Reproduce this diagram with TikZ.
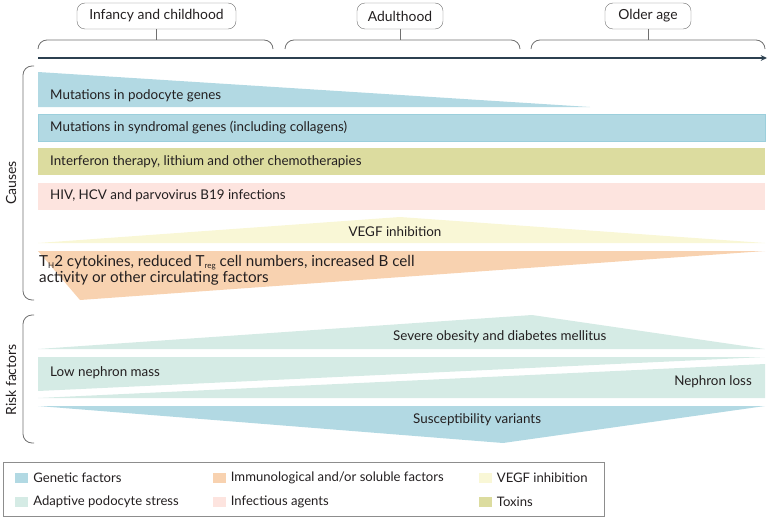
\documentclass[tikz,border=0pt]{standalone}
\usepackage{fontspec}
\setmainfont{Lato}
\usetikzlibrary{arrows.meta, positioning}
\definecolor{genblue}{HTML}{B2D9E3}
\definecolor{genedge}{HTML}{9CCFDC}
\definecolor{stressgreen}{HTML}{D5EBE5}
\definecolor{immorange}{HTML}{F8D2B0}
\definecolor{infpink}{HTML}{FDE4DF}
\definecolor{vegfyellow}{HTML}{F9F7D6}
\definecolor{toxolive}{HTML}{DCDC9F}
\definecolor{timeslate}{HTML}{2C4050}
\definecolor{bracegray}{HTML}{707070}
\definecolor{ink}{HTML}{231F20}
\newcommand{\lowsub}[1]{\raisebox{-2.5pt}{\fontsize{8}{8}\selectfont #1}}

\begin{document}
\begin{tikzpicture}[x=1pt, y=-1pt,
      agebox/.style={rectangle, draw=bracegray, rounded corners=8pt, minimum height=26pt,
                     inner sep=2pt, font=\fontsize{13.9}{16}\selectfont, text=ink},
      brace/.style={draw=bracegray, line width=0.8pt, rounded corners=9pt},
      timeline/.style={-{Stealth[length=2.2mm, width=2mm]}, timeslate, line width=1.6pt},
      lbl/.style={anchor=west, inner sep=0pt, font=\fontsize{13.4}{16}\selectfont, text=ink},
      side/.style={rotate=90, inner sep=0pt, font=\fontsize{14}{16}\selectfont, text=ink},
      swatch/.style={rectangle, minimum width=13pt, minimum height=10pt, inner sep=0pt},
      legtext/.style={anchor=west, inner sep=0pt, font=\fontsize{13.1}{16}\selectfont, text=ink},
    ]
    \useasboundingbox (0,0) rectangle (770,519);

    \node[agebox, minimum width=159pt] (infancy) at (156.5,16) {Infancy and childhood};
    \node[agebox, minimum width=86pt] (adult) at (400,16) {Adulthood};
    \node[agebox, minimum width=86pt] (older) at (648,16) {Older age};
    \coordinate (b1) at (156.5,40);
    \coordinate (b2) at (400,40);
    \coordinate (b3) at (648,40);
    \draw[brace] (38,49) -- (38,40) -- (273,40) -- (273,49);
    \draw[brace] (285,49) -- (285,40) -- (520,40) -- (520,49);
    \draw[brace] (531,49) -- (531,40) -- (765,40) -- (765,49);
    \draw[bracegray, line width=0.8pt] (infancy.south) -- (b1);
    \draw[bracegray, line width=0.8pt] (adult.south) -- (b2);
    \draw[bracegray, line width=0.8pt] (older.south) -- (b3);
    \coordinate (tstart) at (38,58);
    \coordinate (tend) at (767,58);
    \draw[timeline] (tstart) -- (tend);

    \draw[brace] (34,66) -- (23,66) -- (23,300) -- (34,300);
    \draw[brace] (34,315) -- (23,315) -- (23,443) -- (34,443);
    \node[side] (causes) at (11,183) {Causes};
    \node[side] (risk) at (11,380) {Risk factors};

    \fill[genblue] (38,72) -- (590,107) -- (38,107) -- cycle;
    \node[lbl] (podo) at (50,96) {Mutations in podocyte genes};
    \filldraw[fill=genblue, draw=genedge, line width=0.7pt] (38,114) rectangle (765,141);
    \node[lbl] (synd) at (50,128) {Mutations in syndromal genes (including collagens)};
    \fill[toxolive] (38,148) rectangle (765,175);
    \node[lbl] (interf) at (50,162) {Interferon therapy, lithium and other chemotherapies};
    \fill[infpink] (38,183) rectangle (765,210);
    \node[lbl] (hiv) at (50,196) {HIV, HCV and parvovirus B19 infections};
    \fill[vegfyellow] (38,243) -- (400,217) -- (765,243) -- cycle;
    \node[inner sep=0pt, font=\fontsize{13.4}{16}\selectfont, text=ink] (vegf) at (395,232) {VEGF inhibition};
    \fill[immorange] (38,251) -- (765,251) -- (80,300) -- cycle;
    \node[lbl, align=left, font=\fontsize{15.2}{16}\selectfont] (th2) at (39,270)
      {T\lowsub{H}2 cytokines, reduced T\lowsub{reg} cell numbers, increased B cell\\activity or other circulating factors};

    \fill[stressgreen] (38,349) -- (532,315) -- (765,349) -- cycle;
    \node[lbl] (obes) at (393,337) {Severe obesity and diabetes mellitus};
    \fill[stressgreen] (38,357) -- (765,357) -- (38,391) -- cycle;
    \node[lbl] (lownm) at (50,373) {Low nephron mass};
    \fill[stressgreen] (38,398) -- (765,364) -- (765,398) -- cycle;
    \node[lbl, anchor=east] (nloss) at (752,382) {Nephron loss};
    \fill[genblue] (38,406) -- (765,406) -- (503,443) -- cycle;
    \node[lbl] (susc) at (413,420) {Susceptibility variants};

    \draw[bracegray!80, line width=0.8pt] (3,462) rectangle (604,516);
    \node[swatch, fill=genblue] (s1) at (21.5,478) {};
    \node[legtext, right=5pt of s1] (l1) {Genetic factors};
    \node[swatch, fill=stressgreen] (s2) at (21.5,502) {};
    \node[legtext, right=5pt of s2] (l2) {Adaptive podocyte stress};
    \node[swatch, fill=immorange] (s3) at (219,478) {};
    \node[legtext, right=5pt of s3] (l3) {Immunological and/or soluble factors};
    \node[swatch, fill=infpink] (s4) at (219,502) {};
    \node[legtext, right=5pt of s4] (l4) {Infectious agents};
    \node[swatch, fill=vegfyellow] (s5) at (485,478) {};
    \node[legtext, right=5pt of s5] (l5) {VEGF inhibition};
    \node[swatch, fill=toxolive] (s6) at (485,502) {};
    \node[legtext, right=5pt of s6] (l6) {Toxins};
  \end{tikzpicture}
\end{document}
